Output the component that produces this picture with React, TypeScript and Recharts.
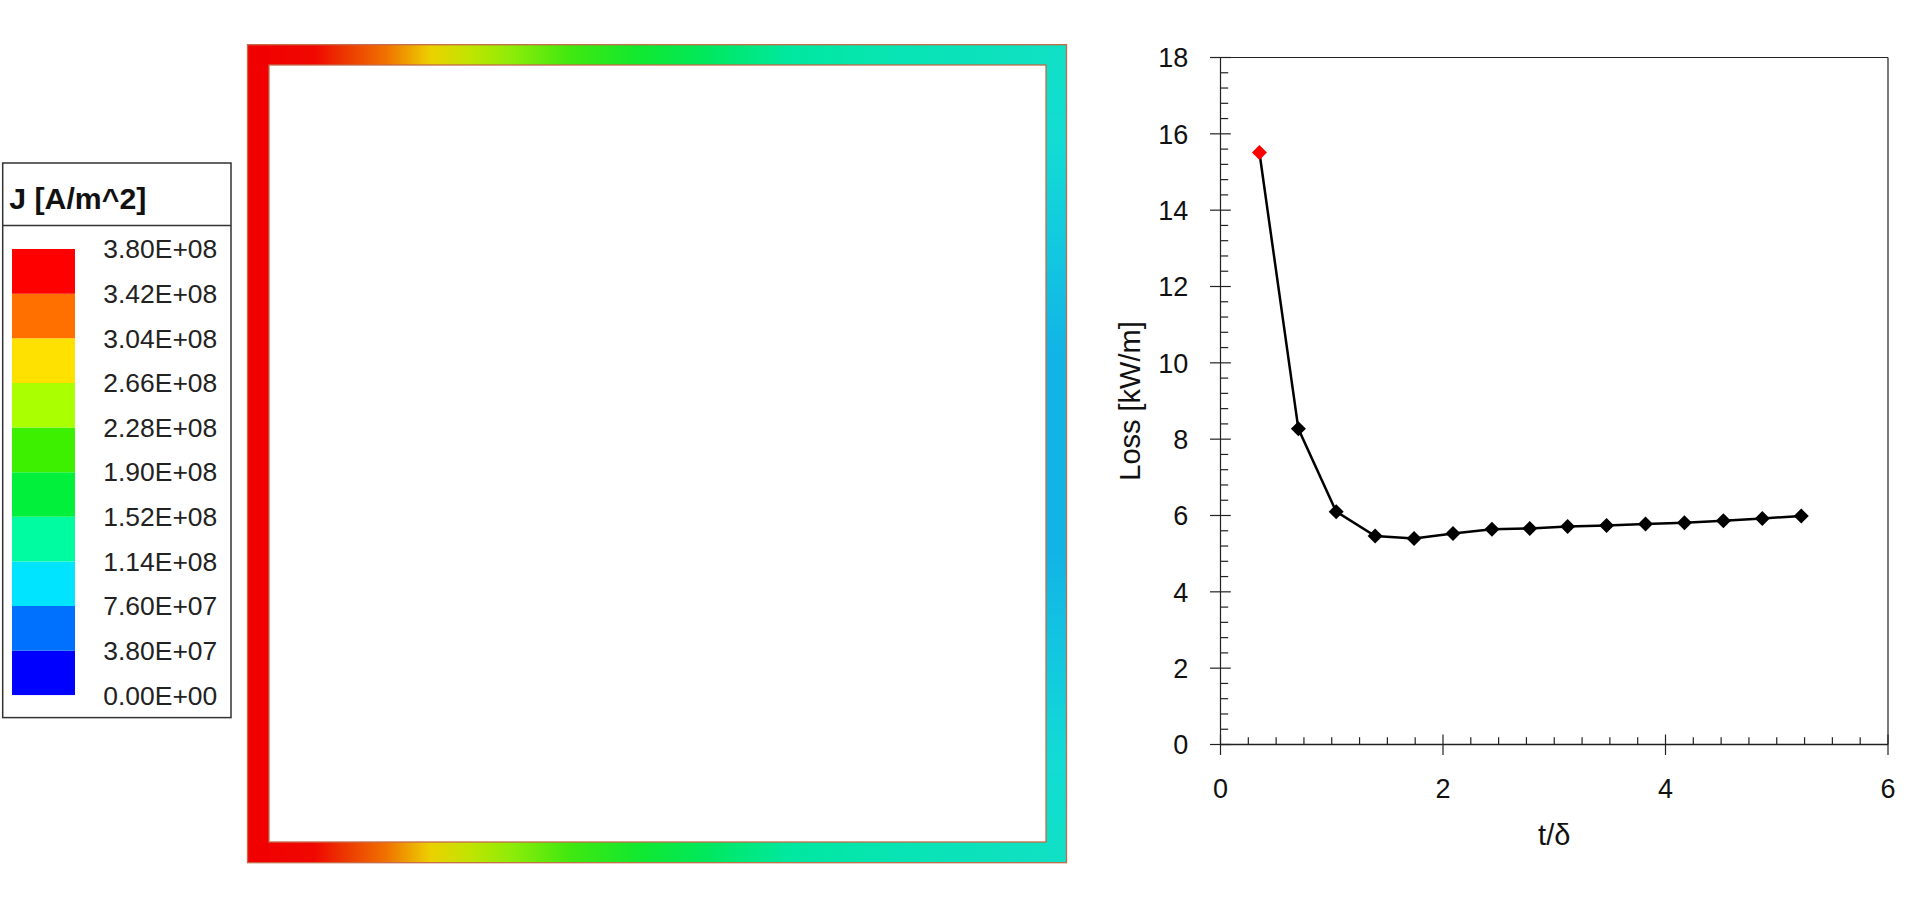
import React from 'react';
import { LineChart, Line, XAxis, YAxis, ReferenceLine, Label, BarChart, Bar } from 'recharts';

const FONT = '"Liberation Sans", Arial, Helvetica, sans-serif';

// loss vs t/delta
const tDelta = [0.35, 0.7, 1.04, 1.39, 1.74, 2.09, 2.44, 2.78, 3.12, 3.47, 3.82, 4.17, 4.52, 4.87, 5.22];
const loss = [15.51, 8.27, 6.1, 5.46, 5.4, 5.53, 5.64, 5.66, 5.71, 5.74, 5.78, 5.81, 5.86, 5.92, 5.99];

const xTicks = Array.from({ length: 25 }, (_, i) => i * 0.25);
const yTicks = Array.from({ length: 46 }, (_, i) => Math.round(i * 4) / 10);

// colour legend, J in 1e6 A/m^2
const levelValues = [0, 38, 76, 114, 152, 190, 228, 266, 304, 342, 380];
const levelLabels = [
  '0.00E+00', '3.80E+07', '7.60E+07', '1.14E+08', '1.52E+08', '1.90E+08',
  '2.28E+08', '2.66E+08', '3.04E+08', '3.42E+08', '3.80E+08',
];
const bandColors = [
  '#0000ff', '#0070ff', '#00e4ff', '#00fca0', '#00f03c',
  '#3cf000', '#aaff00', '#ffe100', '#ff7000', '#ff0000',
];

// current density along the top / bottom conductor and the right side
const edgeStops: [number, string][] = [
  [0, '#f00000'], [0.082, '#f00800'], [0.113, '#ec3000'], [0.168, '#f07000'],
  [0.223, '#ecd000'], [0.272, '#c0e400'], [0.32, '#90ec08'], [0.394, '#40e810'],
  [0.48, '#10e830'], [0.565, '#00e860'], [0.662, '#00e8a0'], [0.797, '#08e4b4'],
  [1, '#10e0c4'],
];
const sideStops: [number, string][] = [
  [0, '#10e0c4'], [0.12, '#12dcd4'], [0.25, '#12c8e0'], [0.38, '#12b4e6'],
  [0.62, '#12b4e6'], [0.75, '#12c8e0'], [0.88, '#12dcd4'], [1, '#10e0c4'],
];

const lossData = tDelta.map((t, i) => ({ t, loss: loss[i] }));
const bandRow: Record<string, number | string> = { name: 'J' };
bandColors.forEach((_, i) => {
  bandRow['b' + i] = levelValues[i + 1] - levelValues[i];
});
const bandData = [bandRow];

const isMajor = (v: number) => Math.abs(v / 2 - Math.round(v / 2)) < 1e-6;

function XTick(props: any) {
  const { x, y, payload } = props;
  const v = payload.value;
  if (isMajor(v)) {
    return (
      <g>
        <line x1={x} y1={y - 10} x2={x} y2={y + 10.5} stroke="#222" strokeWidth={1.2} />
        <text x={x} y={y + 53.5} textAnchor="middle" fontSize={27} fontFamily={FONT} fill="#111">
          {v}
        </text>
      </g>
    );
  }
  return <line x1={x} y1={y} x2={x} y2={y - 7.3} stroke="#222" strokeWidth={1.2} />;
}

function YTick(props: any) {
  const { x, y, payload } = props;
  const v = payload.value;
  if (isMajor(v)) {
    return (
      <g>
        <line x1={x - 10.5} y1={y} x2={x + 10.3} y2={y} stroke="#222" strokeWidth={1.2} />
        <text x={x - 32.2} y={y + 9.7} textAnchor="end" fontSize={27} fontFamily={FONT} fill="#111">
          {Math.round(v)}
        </text>
      </g>
    );
  }
  return <line x1={x} y1={y} x2={x + 7.7} y2={y} stroke="#222" strokeWidth={1.2} />;
}

function LegendTick(props: any) {
  const { x, y, index } = props;
  return (
    <text
      x={x + 142.3}
      y={y + 9.3}
      textAnchor="end"
      fontSize={26}
      fontFamily={FONT}
      fill="#222"
      textLength={114}
      lengthAdjust="spacingAndGlyphs"
    >
      {levelLabels[index]}
    </text>
  );
}

function Diamond(props: any) {
  const { cx, cy, index } = props;
  if (cx == null || cy == null) return null;
  const r = 7.5;
  return (
    <polygon
      key={'d' + index}
      points={`${cx},${cy - r} ${cx + r},${cy} ${cx},${cy + r} ${cx - r},${cy}`}
      fill={index === 0 ? '#ff0000' : '#000'}
    />
  );
}

const renderXLabel = (props: any) => {
  const vb = props.viewBox;
  return (
    <text x={vb.x + vb.width / 2} y={vb.y + 100.5} textAnchor="middle" fontSize={29} fontFamily={FONT} fill="#111">
      t/δ
    </text>
  );
};

const renderYLabel = (props: any) => {
  const vb = props.viewBox;
  const cx = vb.x + 39.7;
  const cy = vb.y + vb.height / 2;
  return (
    <text
      x={cx}
      y={cy}
      textAnchor="middle"
      fontSize={29}
      fontFamily={FONT}
      fill="#111"
      transform={`rotate(-90, ${cx}, ${cy})`}
    >
      Loss [kW/m]
    </text>
  );
};

export default function App() {
  const fx = 247.5;
  const fy = 44.7;
  const fw = 819;
  const fh = 818;
  return (
    <div style={{ position: 'absolute', left: 0, top: 0, width: 1920, height: 908, background: '#fff' }}>
      <svg width={1100} height={908} style={{ position: 'absolute', left: 0, top: 0 }}>
        <defs>
          <linearGradient id="edgeGrad" x1="0" y1="0" x2="1" y2="0">
            {edgeStops.map(([o, c]) => (
              <stop key={o} offset={o} stopColor={c} />
            ))}
          </linearGradient>
          <linearGradient id="sideGrad" x1="0" y1="0" x2="0" y2="1">
            {sideStops.map(([o, c]) => (
              <stop key={o} offset={o} stopColor={c} />
            ))}
          </linearGradient>
        </defs>

        {/* legend box */}
        <rect x={2.7} y={163} width={228.3} height={554.6} fill="#fff" stroke="#333" strokeWidth={1.5} />
        <line x1={2.7} y1={225.5} x2={231} y2={225.5} stroke="#333" strokeWidth={1.5} />
        <text
          x={9.3}
          y={209}
          fontSize={30}
          fontWeight="bold"
          fontFamily={FONT}
          fill="#111"
          textLength={137}
          lengthAdjust="spacingAndGlyphs"
        >
          J [A/m^2]
        </text>

        {/* conductor frame */}
        <rect x={fx} y={fy} width={fw} height={20.3} fill="url(#edgeGrad)" />
        <rect x={fx} y={842} width={fw} height={fy + fh - 842} fill="url(#edgeGrad)" />
        <rect x={fx} y={fy} width={21.5} height={fh} fill="#f00000" />
        <rect x={1046} y={fy} width={fx + fw - 1046} height={fh} fill="url(#sideGrad)" />
        <rect x={fx} y={fy} width={fw} height={fh} fill="none" stroke="#c46a48" strokeWidth={1.3} />
        <rect x={269} y={65} width={1046 - 269} height={842 - 65} fill="#fff" stroke="#c46a48" strokeWidth={1.3} />
      </svg>

      <div style={{ position: 'absolute', left: 11.7, top: 233.7 }}>
        <BarChart
          width={213}
          height={476.3}
          data={bandData}
          margin={{ top: 15, right: 0, bottom: 15, left: 0 }}
          barCategoryGap={0}
        >
          <XAxis dataKey="name" type="category" hide />
          <YAxis
            orientation="right"
            type="number"
            domain={[0, 380]}
            ticks={levelValues}
            interval={0}
            width={150}
            tickSize={0}
            tickMargin={0}
            tickLine={false}
            axisLine={false}
            tick={<LegendTick />}
            allowDataOverflow
          />
          {bandColors.map((c, i) => (
            <Bar key={i} dataKey={'b' + i} stackId="j" fill={c} isAnimationActive={false} />
          ))}
        </BarChart>
      </div>

      <div style={{ position: 'absolute', left: 1100, top: 0 }}>
        <LineChart width={820} height={908} data={lossData} margin={{ top: 57.5, right: 32, bottom: 0, left: 0 }}>
          <XAxis
            dataKey="t"
            type="number"
            domain={[0, 6]}
            ticks={xTicks}
            interval={0}
            height={163.5}
            tickSize={0}
            tickMargin={0}
            tickLine={false}
            axisLine={{ stroke: '#222', strokeWidth: 1.6 }}
            tick={<XTick />}
          >
            <Label content={renderXLabel} />
          </XAxis>
          <YAxis
            type="number"
            domain={[0, 18]}
            ticks={yTicks}
            interval={0}
            width={120.5}
            tickSize={0}
            tickMargin={0}
            tickLine={false}
            axisLine={{ stroke: '#222', strokeWidth: 1.2 }}
            tick={<YTick />}
          >
            <Label content={renderYLabel} />
          </YAxis>
          <ReferenceLine y={18} stroke="#222" strokeWidth={1.2} />
          <ReferenceLine x={6} stroke="#222" strokeWidth={1.2} />
          <Line
            type="linear"
            dataKey="loss"
            stroke="#000"
            strokeWidth={2.5}
            dot={<Diamond />}
            activeDot={false}
            isAnimationActive={false}
          />
        </LineChart>
      </div>
    </div>
  );
}
